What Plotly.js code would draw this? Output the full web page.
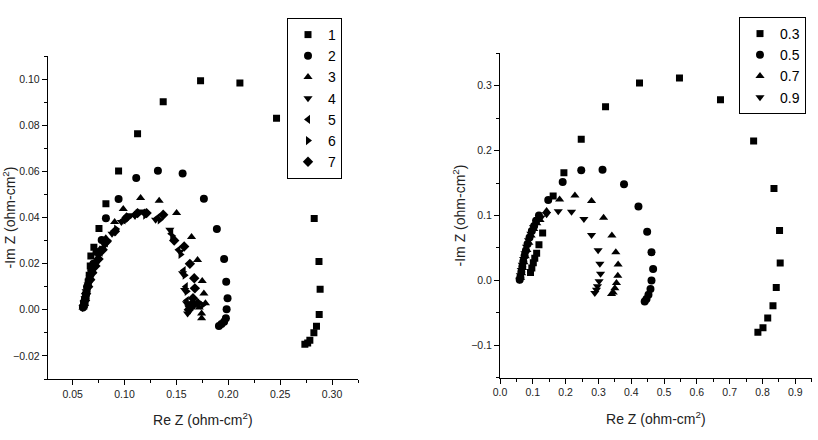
<!DOCTYPE html>
<html>
<head>
<meta charset="utf-8">
<script src="https://cdn.plot.ly/plotly-3.0.1.min.js"></script>
<style>
html,body{margin:0;padding:0;background:#fff;}
#chart{width:818px;height:440px;}
</style>
</head>
<body>
<div id="chart"></div>
<script>
// ---------- Left panel data (Re Z, -Im Z in ohm-cm^2) ----------
const leftNames = ["1", "2", "3", "4", "5", "6", "7"];
const left1X = [0.061,0.062,0.063,0.064,0.065,0.066,0.067,0.0676,0.0705,0.0754,0.0821,0.0943,0.1126,0.1373,0.1733,0.2112,0.2465,0.2683,0.2828,0.2874,0.2885,0.2876,0.2850,0.2825,0.2786,0.2765,0.2738];
const left1Y = [0.002,0.004,0.006,0.009,0.012,0.015,0.019,0.0233,0.0271,0.0352,0.046,0.0602,0.0763,0.0902,0.0993,0.0983,0.0830,0.0610,0.0396,0.0209,0.0089,-0.0020,-0.0071,-0.0100,-0.0132,-0.0144,-0.0149];
const left2X = [0.060,0.061,0.062,0.063,0.064,0.066,0.068,0.070,0.073,0.078,0.0821,0.0943,0.1113,0.1322,0.156,0.1765,0.189,0.196,0.198,0.1993,0.1984,0.1977,0.196,0.1935,0.191];
const left2Y = [0.001,0.003,0.005,0.007,0.010,0.013,0.017,0.020,0.025,0.0303,0.0397,0.048,0.0571,0.0603,0.0591,0.0481,0.035,0.022,0.0122,0.005,0.0002,-0.0037,-0.0052,-0.0062,-0.007];
const left3X = [0.060,0.061,0.062,0.063,0.065,0.067,0.069,0.072,0.076,0.082,0.0905,0.0988,0.1155,0.1334,0.1502,0.1646,0.1704,0.1749,0.1765,0.178,0.1743,0.1743,0.172,0.170];
const left3Y = [0.001,0.003,0.005,0.008,0.011,0.014,0.017,0.021,0.026,0.031,0.038,0.0437,0.0484,0.0473,0.0419,0.0315,0.0216,0.0125,0.0071,0.0028,-0.0016,-0.0037,0.001,0.003];
const left4X = [0.060,0.061,0.062,0.063,0.065,0.067,0.069,0.072,0.076,0.081,0.088,0.097,0.106,0.115,0.130,0.1437,0.1534,0.156,0.158,0.1598,0.1608,0.162,0.165];
const left4Y = [0.001,0.003,0.005,0.008,0.011,0.014,0.017,0.020,0.024,0.028,0.033,0.038,0.041,0.0426,0.039,0.0347,0.0252,0.0158,0.0086,0.0028,-0.0016,0.001,0.002];
const left5X = [0.060,0.0615,0.063,0.064,0.066,0.068,0.070,0.073,0.077,0.082,0.090,0.099,0.109,0.118,0.132,0.145,0.152,0.157,0.159,0.160,0.162,0.166,0.170];
const left5Y = [0.002,0.004,0.006,0.009,0.012,0.015,0.018,0.021,0.025,0.029,0.034,0.039,0.041,0.042,0.040,0.033,0.026,0.017,0.010,0.004,0.000,0.002,0.003];
const left6X = [0.061,0.062,0.063,0.065,0.066,0.068,0.071,0.074,0.078,0.084,0.092,0.101,0.111,0.120,0.134,0.146,0.154,0.158,0.160,0.161,0.164,0.168,0.172,0.175];
const left6Y = [0.001,0.004,0.007,0.010,0.013,0.016,0.019,0.022,0.026,0.030,0.035,0.039,0.041,0.041,0.039,0.032,0.024,0.015,0.008,0.002,0.001,0.002,0.003,0.002];
const left7X = [0.061,0.062,0.063,0.065,0.067,0.069,0.072,0.075,0.079,0.0828,0.0908,0.102,0.1126,0.1213,0.1373,0.1479,0.1575,0.163,0.1672,0.1678,0.166,0.164,0.162];
const left7Y = [0.002,0.004,0.007,0.010,0.013,0.016,0.019,0.022,0.026,0.0296,0.034,0.040,0.0419,0.0419,0.0412,0.030,0.0274,0.0199,0.0137,0.0093,0.005,0.002,0.000];

// ---------- Right panel data ----------
const rightNames = ["0.3", "0.5", "0.7", "0.9"];
const right1X = [0.093,0.097,0.1015,0.106,0.1117,0.1187,0.130,0.162,0.1948,0.2476,0.3217,0.4252,0.547,0.672,0.773,0.835,0.852,0.854,0.842,0.832,0.816,0.8015,0.786];
const right1Y = [0.012,0.019,0.027,0.034,0.042,0.055,0.073,0.130,0.166,0.2176,0.2675,0.3042,0.312,0.2783,0.215,0.1418,0.0768,0.0269,-0.0108,-0.039,-0.058,-0.0731,-0.080];
const right2X = [0.060,0.062,0.065,0.068,0.071,0.075,0.079,0.084,0.090,0.097,0.104,0.110,0.1187,0.147,0.191,0.2476,0.3125,0.378,0.422,0.4485,0.4617,0.4667,0.4617,0.4586,0.4525,0.4465,0.441];
const right2Y = [0.001,0.005,0.013,0.021,0.029,0.038,0.046,0.056,0.066,0.076,0.084,0.092,0.100,0.1237,0.1516,0.1697,0.1707,0.148,0.114,0.0748,0.0433,0.0176,0.000,-0.0133,-0.022,-0.0288,-0.0325];
const right3X = [0.063,0.066,0.069,0.073,0.077,0.082,0.088,0.095,0.103,0.112,0.122,0.142,0.1817,0.2283,0.279,0.3157,0.341,0.353,0.360,0.359,0.355,0.350,0.345,0.340];
const right3Y = [0.004,0.011,0.019,0.028,0.037,0.047,0.058,0.069,0.079,0.088,0.093,0.107,0.1248,0.131,0.1222,0.0965,0.069,0.0433,0.0243,0.0073,-0.004,-0.012,-0.0185,-0.021];
const right4X = [0.060,0.062,0.065,0.068,0.072,0.076,0.081,0.087,0.094,0.102,0.112,0.125,0.142,0.1775,0.218,0.2557,0.279,0.299,0.3044,0.3065,0.302,0.297,0.294,0.289];
const right4Y = [0.001,0.008,0.016,0.024,0.033,0.042,0.052,0.062,0.072,0.082,0.090,0.097,0.102,0.1067,0.1057,0.0945,0.0700,0.0464,0.0258,0.0104,-0.0015,-0.009,-0.0144,-0.0195];

const leftX = [left1X, left2X, left3X, left4X, left5X, left6X, left7X];
const leftY = [left1Y, left2Y, left3Y, left4Y, left5Y, left6Y, left7Y];
const rightX = [right1X, right2X, right3X, right4X];
const rightY = [right1Y, right2Y, right3Y, right4Y];

const symbols = ["square", "circle", "triangle-up", "triangle-down", "triangle-left", "triangle-right", "diamond"];
const sizes = [7, 8, 8, 8, 8, 8, 8];

const traces = [];
leftNames.forEach((nm, i) => {
  traces.push({
    type: "scatter", mode: "markers", name: nm,
    x: leftX[i], y: leftY[i], xaxis: "x", yaxis: "y",
    legend: "legend",
    marker: {symbol: symbols[i], size: sizes[i], color: "#000"}
  });
});
rightNames.forEach((nm, i) => {
  traces.push({
    type: "scatter", mode: "markers", name: nm,
    x: rightX[i], y: rightY[i], xaxis: "x2", yaxis: "y2",
    legend: "legend2",
    marker: {symbol: symbols[i], size: sizes[i], color: "#000"}
  });
});

const fam = "Liberation Sans, Arial, sans-serif";
const tickFont = {family: fam, size: 10.5, color: "#222"};
const titleFont = {family: fam, size: 14, color: "#222"};

function axis(extra) {
  return Object.assign({
    showline: true, linecolor: "#000", linewidth: 1,
    showgrid: false, zeroline: false,
    ticks: "outside", ticklen: 5, tickwidth: 1, tickcolor: "#000",
    tickfont: tickFont,
    mirror: false, fixedrange: true
  }, extra);
}

const layout = {
  width: 818, height: 440,
  margin: {l: 0, r: 0, t: 0, b: 0},
  paper_bgcolor: "#fff", plot_bgcolor: "#fff",
  showlegend: true,
  xaxis: axis({
    domain: [47.7/818, 358/818], anchor: "y",
    range: [0.026, 0.325], tick0: 0, dtick: 0.05, tickformat: ".2f",
    minor: {dtick: 0.025, ticks: "outside", ticklen: 3, tickcolor: "#000"},
    title: {text: "Re Z (ohm-cm<sup>2</sup>)", font: titleFont, standoff: 16}
  }),
  yaxis: axis({
    domain: [1 - 379/440, 1 - 56/440], anchor: "x",
    range: [-0.03, 0.11], tick0: 0, dtick: 0.02, tickformat: ".2f",
    minor: {dtick: 0.01, ticks: "outside", ticklen: 3, tickcolor: "#000"},
    title: {text: "-Im Z (ohm-cm<sup>2</sup>)", font: titleFont, standoff: 8}
  }),
  xaxis2: axis({
    domain: [500/818, 811.7/818], anchor: "y2",
    range: [0, 0.95], tick0: 0, dtick: 0.1, tickformat: ".1f",
    minor: {dtick: 0.05, ticks: "outside", ticklen: 3, tickcolor: "#000"},
    title: {text: "Re Z (ohm-cm<sup>2</sup>)", font: titleFont, standoff: 16}
  }),
  yaxis2: axis({
    domain: [1 - 377.7/440, 1 - 53.3/440], anchor: "x2",
    range: [-0.15, 0.35], tick0: 0, dtick: 0.1, tickformat: ".1f",
    minor: {dtick: 0.05, ticks: "outside", ticklen: 3, tickcolor: "#000"},
    title: {text: "-Im Z (ohm-cm<sup>2</sup>)", font: titleFont, standoff: 2}
  }),
  legend: {
    x: 342/818, xanchor: "right", y: 1 - 18/440, yanchor: "top",
    bordercolor: "#000", borderwidth: 1, bgcolor: "#fff",
    font: {family: fam, size: 14, color: "#000"},
    tracegroupgap: 0, itemwidth: 30
  },
  legend2: {
    x: 806/818, xanchor: "right", y: 1 - 17/440, yanchor: "top",
    bordercolor: "#000", borderwidth: 1, bgcolor: "#fff",
    font: {family: fam, size: 14, color: "#000"},
    tracegroupgap: 0, itemwidth: 30
  }
};

Plotly.newPlot("chart", traces, layout, {displayModeBar: false, staticPlot: true});
</script>
</body>
</html>
